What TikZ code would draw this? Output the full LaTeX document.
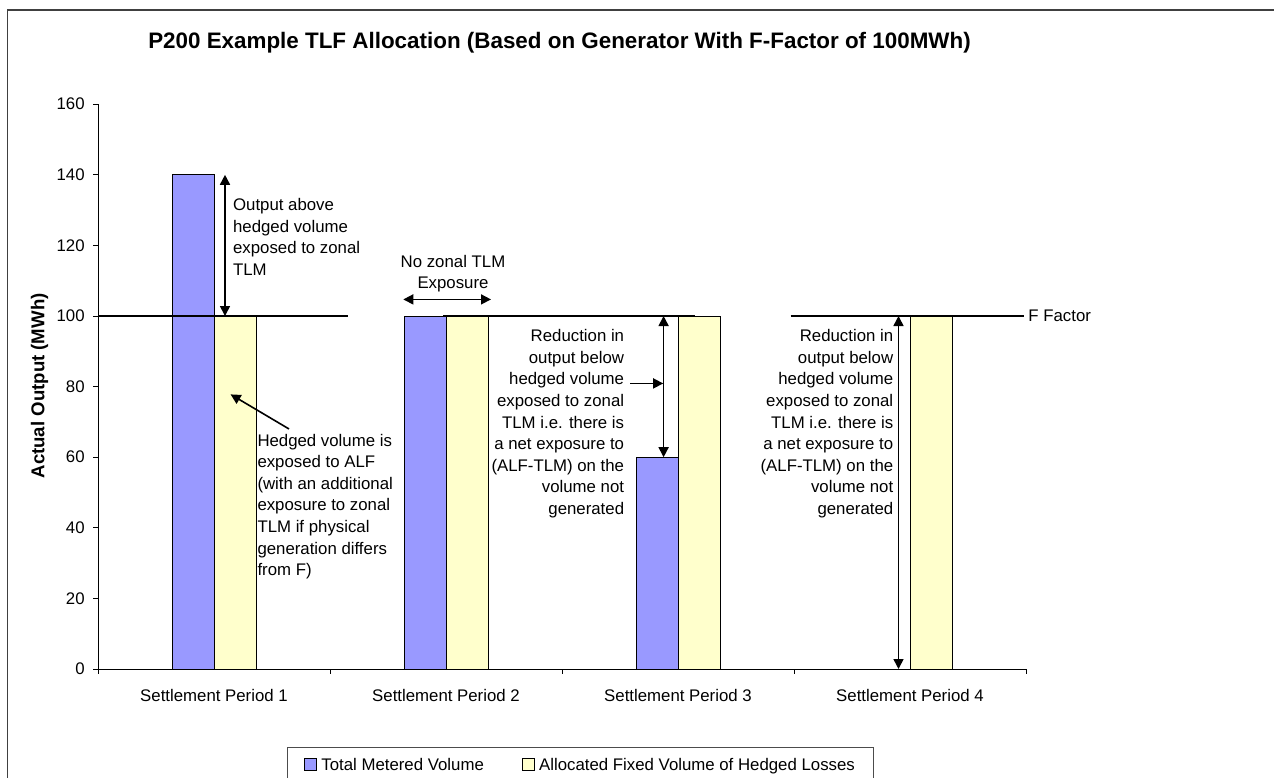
\documentclass[tikz,border=0pt]{standalone}
\usepackage{fontspec}
\setmainfont{Liberation Sans}
\usepackage{tikz}
\usetikzlibrary{arrows.meta}
\usetikzlibrary{calc}
\definecolor{meteredBlue}{HTML}{9999FF}
\definecolor{hedgedYellow}{HTML}{FFFFCC}
\tikzset{%
  note/.style={inner sep=0mm,font=\fontsize{8.4pt}{10.8pt}\selectfont},
  barM/.style={draw=black,line width=0.5pt,fill=meteredBlue},
  barH/.style={draw=black,line width=0.5pt,fill=hedgedYellow},
  axisLine/.style={draw=black,line width=0.5pt},
  fLine/.style={draw=black,line width=1.4pt},
  pointer/.style={line width=0.8pt}
}
\tikzset{%
  swatch/.style={draw=black,line width=0.5pt,minimum size=6pt,inner sep=0mm}
}

\begin{document}
\begin{tikzpicture}[x=0.5pt,y=-0.5pt,>={Triangle[length=5pt,width=5pt]}]
\clip (0,0) rectangle (1274,777);
\draw[black!75,line width=0.75pt] (7.3,800) -- (7.3,10) -- (1290,10);
\node[inner sep=0mm,font=\fontsize{11.2pt}{13pt}\bfseries\selectfont] at (559.5,43) (title) {P200 Example TLF Allocation (Based on Generator With F-Factor of 100MWh)};

% plot area: x in px from the axis, y in MWh
\begin{scope}[shift={(49pt,-334.5pt)},x=0.5pt,y=1.765pt]
\foreach \c/\m in {1/140,2/100,3/60}
  \draw[barM] ({232*\c-158},0) rectangle ({232*\c-116},\m);
\foreach \c in {1,...,4}
  \draw[barH] ({232*\c-116},0) rectangle ({232*\c-74},100);

\draw[axisLine] (0,160) -- (0,0) -- (928,0);
\foreach \v in {0,20,...,160}{
  \draw[axisLine] (-5,\v) -- (0,\v);
  \node[note,anchor=east] at (-13,\v) (yl\v) {\v};
}
\foreach \k in {0,...,4}
  \draw[axisLine] (232*\k,0) -- ++(0,-1.5);
\foreach \c in {1,...,4}
  \node[note] at ({232*\c-116},-7.4) (sp\c) {Settlement Period \c};
\node[inner sep=0mm,rotate=90,font=\fontsize{9.3pt}{11pt}\bfseries\selectfont] at (-58.4,80.2) (yTitle) {Actual Output (MWh)};

\draw[fLine] (0,100) -- (250,100);
\draw[fLine] (345,100) -- (597,100);
\draw[fLine] (692.5,100) -- (926,100);
\node[note,anchor=west] at (930,100) (fFactor) {F Factor};

\node[note,anchor=west,align=left] at (134.7,122.4) (aboveNote) {Output above\\hedged volume\\exposed to zonal\\TLM};
\coordinate (sp1Top) at (127,140);
\coordinate (sp1F) at (127,100);
\draw[<->, pointer] (sp1Top) -- (sp1F);

\node[note,anchor=west,align=left] at (159.1,46) (hedgedNote) {Hedged volume is\\exposed to ALF\\(with an additional\\exposure to zonal\\TLM if physical\\generation differs\\from F)};
\coordinate (hedgedTail) at (191,68);
\coordinate (hedgedTip) at (132.6,77.8);
\draw[->, pointer] (hedgedTail) -- (hedgedTip);

\node[note,align=center] at (355,112) (noExpNote) {No zonal TLM\\Exposure};
\coordinate (expL) at (305.3,104.7);
\coordinate (expR) at (393,104.7);
\draw[<->, pointer] (expL) -- (expR);

\node[note,anchor=east,align=right] at (526.5,69.5) (sp3Note) {Reduction in\\output below\\hedged volume\\exposed to zonal\\TLM i.e. there is\\a net exposure to\\(ALF-TLM) on the\\volume not\\generated};
\coordinate (sp3F) at (565.6,100);
\coordinate (sp3Low) at (565.6,60);
\draw[<->, pointer] (sp3F) -- (sp3Low);
\coordinate (sp3Tail) at (532,80.9);
\draw[->, pointer] (sp3Tail) -- ($(sp3Tail -| sp3F)+(-0.4,0)$);

\node[note,anchor=east,align=right] at (795.6,69.5) (sp4Note) {Reduction in\\output below\\hedged volume\\exposed to zonal\\TLM i.e. there is\\a net exposure to\\(ALF-TLM) on the\\volume not\\generated};
\coordinate (sp4F) at (800.5,100);
\coordinate (sp4Zero) at (800.5,0);
\draw[<->, pointer] (sp4F) -- (sp4Zero);
\end{scope}

% legend
\draw[black!70,line width=0.5pt] (287.5,747.7) rectangle (873.3,800);
\node[swatch,fill=meteredBlue] at (310,764) (keyM) {};
\node[note,anchor=base west] at (321,770) (keyMText) {Total Metered Volume};
\node[swatch,fill=hedgedYellow] at (528.5,764) (keyH) {};
\node[note,anchor=base west] at (538.8,770) (keyHText) {Allocated Fixed Volume of Hedged Losses};
\end{tikzpicture}
\end{document}
